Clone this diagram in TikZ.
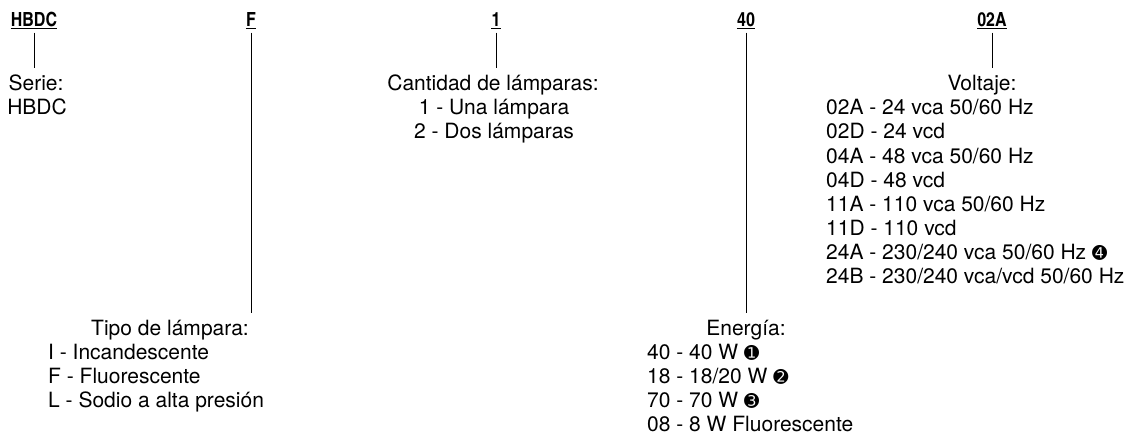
\documentclass[tikz,border=0pt]{standalone}
\usepackage{fontspec}
\setmainfont{TeX Gyre Heros}
\newfontfamily\codefont{TeX Gyre Heros Cn}
\newfontfamily\numfont{DejaVu Sans}
\newcommand{\circnum}[1]{{\numfont\fontsize{18}{18}\selectfont #1}}

\begin{document}
\begin{tikzpicture}[x=1pt,y=-1pt,
    every node/.style={inner sep=0pt,font=\fontsize{21}{24}\selectfont},
    code/.style={anchor=base,font=\codefont\bfseries\fontsize{19.5}{19.5}\selectfont},
    stem/.style={line width=1pt,shorten <=6pt,shorten >=22.5pt},
    uline/.style={line width=1.4pt}]
  \useasboundingbox (0,0) rectangle (1137,433);
  % codigo
  \node[code] (cserie) at (34,26.7) {HBDC};
  \node[code] (ctipo) at (251,26.7) {F};
  \node[code] (ccant) at (496,26.7) {1};
  \node[code] (cener) at (746,26.7) {40};
  \node[code] (cvolt) at (992,26.7) {02A};
  \foreach \n in {cserie,ctipo,ccant,cener,cvolt}
           {\draw[uline] ([yshift=-2pt]\n.base west) -- ([yshift=-2pt]\n.base east);}
  %
  % titulos
  \node[anchor=base] (serie) at (36,91) {Serie:};
  \node[anchor=base] (serie1) at (37,115) {HBDC};
  \node[anchor=base] (cant) at (493,91) {Cantidad de lámparas:};
  \node[anchor=base] (voltaje) at (982,91) {Voltaje:};
  \node[anchor=base] (tipo) at (170,335) {Tipo de lámpara:};
  \node[anchor=base] (ener) at (746,335) {Energía:};
  %
  \foreach \t [count=\i] in {1 - Una lámpara,2 - Dos lámparas}
           {\node[anchor=base] (cant\i) at (494,91+24*\i) {\t};}
  \foreach \t [count=\i] in {02A - 24 vca 50/60 Hz,02D - 24 vcd,
           04A - 48 vca 50/60 Hz,04D - 48 vcd,11A - 110 vca 50/60 Hz,
           11D - 110 vcd,24A - 230/240 vca 50/60 Hz \circnum{➍},
           24B - 230/240 vca/vcd 50/60 Hz}
           {\node[anchor=base west] (volt\i) at (826,91+24*\i) {\t};}
  \foreach \t [count=\i] in {I - Incandescente,F - Fluorescente,
           L - Sodio a alta presión}
           {\node[anchor=base west] (tipo\i) at (48,335+24*\i) {\t};}
  \foreach \t [count=\i] in {40 - 40 W \circnum{➊},18 - 18/20 W \circnum{➋},
           70 - 70 W \circnum{➌},08 - 8 W Fluorescente}
           {\node[anchor=base west] (ener\i) at (647,335+24*\i) {\t};}
  %
  % lineas
  \draw[stem] (cserie.base) -- (cserie.base |- serie.base);
  \draw[stem] (ctipo.base) -- (ctipo.base |- tipo.base);
  \draw[stem] (ccant.base) -- (ccant.base |- cant.base);
  \draw[stem] (cener.base) -- (cener.base |- ener.base);
  \draw[stem] (cvolt.base) -- (cvolt.base |- voltaje.base);
\end{tikzpicture}
\end{document}
